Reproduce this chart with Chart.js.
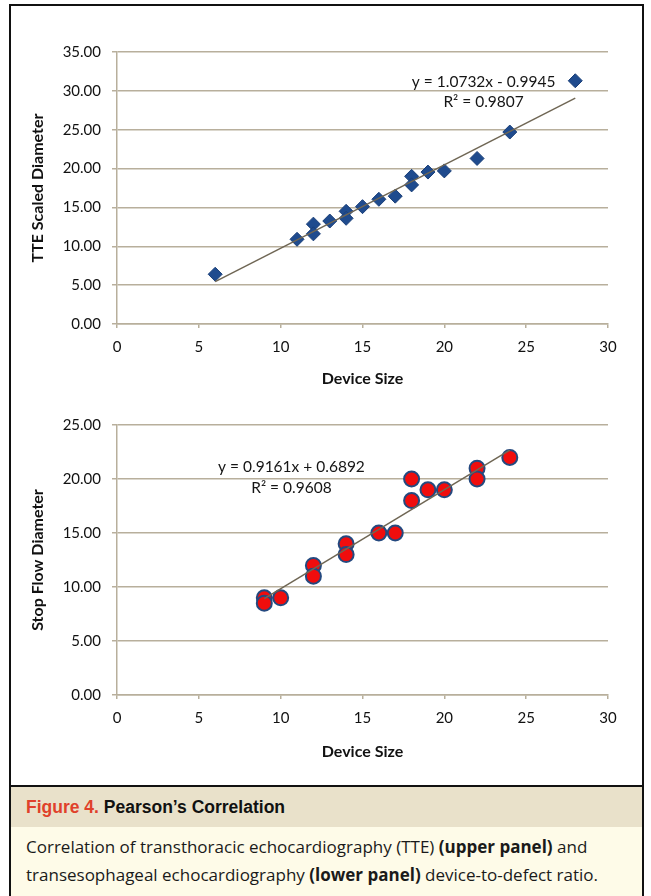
<!DOCTYPE html>
<html>
<head>
<meta charset="utf-8">
<script src="https://cdn.jsdelivr.net/npm/chart.js@4.4.0/dist/chart.umd.min.js"></script>
<style>
  html, body { margin: 0; padding: 0; background: #fff; }
  body { width: 651px; height: 896px; position: relative; overflow: hidden; }
  #frame { position: absolute; left: 9px; top: 4px; width: 631px; height: 940px; border: 2px solid #111; }
  .wrap { position: absolute; left: 11px; width: 628px; }
  #w1 { top: 30px; height: 375px; }
  #w2 { top: 405px; height: 377px; }
  #sep { position: absolute; left: 9px; top: 785px; width: 635px; height: 2px; background: #111; }
  #capHead { position: absolute; left: 11px; top: 787px; width: 631px; height: 40px; background: #e9e1ca;
    font: bold 17.5px "Liberation Sans Narrow", "Arial Narrow", sans-serif; line-height: 40px; color: #111; }
  #capHead span.fig { color: #e0412b; }
  #capBody { position: absolute; left: 11px; top: 827px; width: 631px; height: 80px; background: #fefbe8;
    font: 17px "Open Sans", sans-serif; line-height: 27.5px; color: #1a1a1a; padding-top: 6px; box-sizing: border-box; }
  .pad { padding-left: 15px; }
</style>
</head>
<body>
<div id="frame"></div>
<div class="wrap" id="w1"><canvas id="tteChart"></canvas></div>
<div class="wrap" id="w2"><canvas id="sfChart"></canvas></div>
<div id="sep"></div>
<div id="capHead"><div class="pad"><span class="fig">Figure 4.</span> Pearson’s Correlation</div></div>
<div id="capBody"><div class="pad">Correlation of transthoracic echocardiography (TTE) <b>(upper panel)</b> and<br>transesophageal echocardiography <b>(lower panel)</b> device-to-defect ratio.</div></div>

<script>
// upper panel: TTE scaled diameter vs device size
const tteX = [6, 11, 12, 12, 13, 14, 14, 15, 16, 17, 18, 18, 19, 20, 22, 24, 28];
const tteY = [6.4, 10.9, 12.85, 11.6, 13.25, 14.5, 13.6, 15.1, 16.05, 16.45, 19.0, 17.9, 19.55, 19.7, 21.3, 24.7, 31.3];
const tteTrendX = [6, 28];
const tteTrendY = [5.45, 29.06];

// lower panel: stop flow diameter vs device size
const sfX = [9, 9, 10, 12, 12, 14, 14, 16, 17, 18, 18, 19, 20, 22, 22, 24];
const sfY = [9, 8.5, 9, 12, 11, 14, 13, 15, 15, 20, 18, 19, 19, 21, 20, 22];
const sfTrendX = [9, 24];
const sfTrendY = [8.93, 22.67];

const xTicks = [0, 5, 10, 15, 20, 25, 30];
const gridColor = '#b8af9c';

function toPoints(xs, ys) {
    return xs.map((x, i) => ({ x, y: ys[i] }));
}

// draws the trendline equation text, anchored in data units
const eqPlugin = {
    id: 'eqLabel',
    afterDatasetsDraw(chart, args, opts) {
        const { ctx, scales } = chart;
        const cx = scales.x.getPixelForValue(opts.x);
        let cy = scales.y.getPixelForValue(opts.y);
        ctx.save();
        ctx.font = '15.5px Lato';
        ctx.fillStyle = '#151515';
        ctx.textAlign = 'center';
        ctx.textBaseline = 'middle';
        opts.lines.forEach(line => {
            ctx.fillText(line, cx, cy);
            cy += opts.gap;
        });
        ctx.restore();
    }
};

function createChart(id, cfg) {
    const ctx = document.getElementById(id).getContext('2d');
    return new Chart(ctx, {
        type: 'scatter',
        data: {
            datasets: [{
                type: 'line',
                data: toPoints(cfg.trendX, cfg.trendY),
                borderColor: '#6f6654',
                borderWidth: 1.5,
                pointRadius: 0,
                fill: false,
                order: 0
            }, {
                data: toPoints(cfg.xs, cfg.ys),
                pointStyle: cfg.pointStyle,
                pointRadius: cfg.radius,
                backgroundColor: cfg.fill,
                borderColor: cfg.border,
                borderWidth: cfg.borderWidth,
                order: 1
            }]
        },
        options: {
            responsive: true,
            maintainAspectRatio: false,
            animation: false,
            layout: { padding: { left: 0, right: 31, top: cfg.padTop, bottom: 0 } },
            plugins: {
                legend: { display: false },
                tooltip: { enabled: false },
                eqLabel: cfg.eq
            },
            scales: {
                x: {
                    type: 'linear',
                    min: 0, max: 30,
                    afterBuildTicks: axis => { axis.ticks = xTicks.map(v => ({ value: v })); },
                    afterFit: axis => { axis.height = cfg.xAxisH; },
                    grid: { drawOnChartArea: false, drawTicks: true, tickLength: 4, color: gridColor, lineWidth: 1.5 },
                    border: { display: true, color: gridColor, width: 1.5 },
                    ticks: { padding: 10, color: '#111', font: { family: 'Lato', size: 15 } },
                    title: { display: true, text: 'Device Size', color: '#111',
                             font: { family: 'Lato', size: 16, weight: 'bold' },
                             padding: { top: 0, bottom: cfg.xTitlePad } }
                },
                y: {
                    min: 0, max: cfg.yMax,
                    ticks: { stepSize: 5, padding: 11, color: '#111',
                             font: { family: 'Lato', size: 15 },
                             callback: v => v.toFixed(2) },
                    afterFit: axis => { axis.width = 106; },
                    grid: { color: gridColor, lineWidth: 1.5, tickLength: 5 },
                    border: { display: true, color: gridColor, width: 1.5 },
                    title: { display: true, text: cfg.yTitle, color: '#111',
                             font: { family: 'Lato', size: 16, weight: 'bold' },
                             padding: { top: 17.4, bottom: 0 } }
                }
            }
        },
        plugins: [eqPlugin]
    });
}

createChart('tteChart', {
    xs: tteX, ys: tteY, trendX: tteTrendX, trendY: tteTrendY,
    pointStyle: 'rectRot', radius: 7, fill: '#1f4b8e', border: '#1a3f78', borderWidth: 1,
    yMax: 35, yTitle: 'TTE Scaled Diameter', padTop: 22, xAxisH: 81, xTitlePad: 16.9,
    eq: { x: 22.4, y: 31.15, gap: 20, lines: ['y = 1.0732x - 0.9945', 'R² = 0.9807'] }
});

createChart('sfChart', {
    xs: sfX, ys: sfY, trendX: sfTrendX, trendY: sfTrendY,
    pointStyle: 'circle', radius: 7.5, fill: '#f00d0d', border: '#24497f', borderWidth: 2,
    yMax: 25, yTitle: 'Stop Flow Diameter', padTop: 19, xAxisH: 87, xTitlePad: 20.9,
    eq: { x: 10.66, y: 21.13, gap: 21, lines: ['y = 0.9161x + 0.6892', 'R² = 0.9608'] }
});
</script>
</body>
</html>
